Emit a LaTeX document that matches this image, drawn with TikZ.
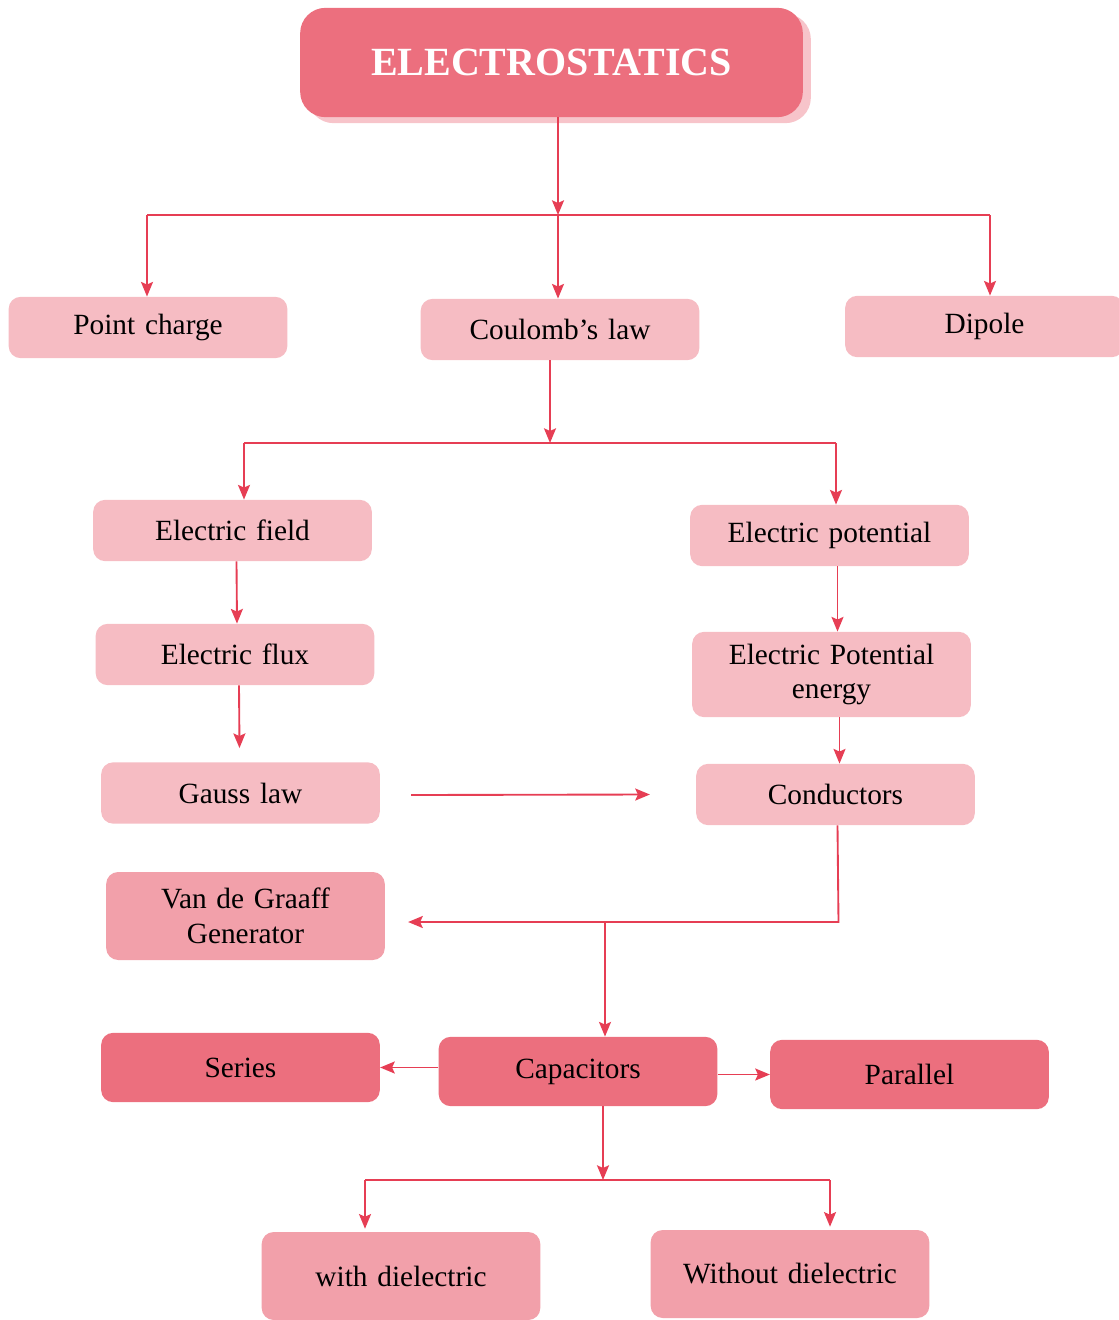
\documentclass[tikz,border=0pt]{standalone}
\usepackage{fontspec}
\setmainfont[WordSpace=0.8]{Liberation Serif}
\usetikzlibrary{arrows.meta,positioning,calc,shadows}
\definecolor{rosedark}{HTML}{EC6F7E}
\definecolor{roselight}{HTML}{F6BCC3}
\definecolor{rosemid}{HTML}{F2A0AA}
\definecolor{roseshade}{HTML}{F7C4CA}
\definecolor{linkred}{HTML}{E63E54}
\tikzstyle{block} = [fill=roselight, rounded corners=9pt, minimum width=209pt, minimum height=46pt, text width=200pt, align=center, inner sep=0pt, font=\fontsize{22}{26}\selectfont]
\tikzstyle{mblock} = [block, fill=rosemid, minimum height=66pt]
\tikzstyle{dblock} = [block, fill=rosedark, minimum height=52pt]
\tikzstyle{head} = [fill=rosedark, rounded corners=19pt, minimum width=377pt, minimum height=82pt, text=white, font=\fontsize{30}{34}\selectfont\bfseries, drop shadow={shadow xshift=6pt, shadow yshift=-4.5pt, fill=roseshade, opacity=1}]
\tikzstyle{link} = [draw=linkred, line width=1.4pt]
\tikzstyle{darrow} = [link, -{Stealth[length=11pt,width=9pt,inset=2pt]}]

\begin{document}
\begin{tikzpicture}[x=0.75pt, y=-0.75pt]
    \useasboundingbox (0,0) rectangle (1118,1320);

    % title
    \node[head] (title) at (551.5,62.5) {ELECTROSTATICS};

    % first row
    \node[block] (pc) at (148,327.5) {Point charge};
    \node[block] (cl) at (560,329.5) {Coulomb’s law};
    \node[block] (dp) at (984.5,326.5) {Dipole};

    % left column
    \node[block] (ef) at (232.5,530.5) {Electric field};
    \node[block] (flux) at (235,654.5) {Electric flux};
    \node[block] (gauss) at (240.5,793) {Gauss law};
    \node[mblock] (vdg) at (245.5,916) {Van de Graaff\\Generator};

    % right column
    \node[block] (ep) at (829.5,535.5) {Electric potential};
    \node[block, minimum height=64pt] (epe) at (831.5,674.5) {Electric Potential\\energy};
    \node[block] (cond) at (835.5,794.5) {Conductors};

    % capacitors
    \node[dblock] (series) at (240.5,1067.5) {Series};
    \node[dblock] (cap) at (578,1071.5) {Capacitors};
    \node[dblock] (par) at (909.5,1074.5) {Parallel};
    \node[mblock] (wd) at (401,1276) {with dielectric};
    \node[mblock] (wod) at (790,1274) {Without dielectric};

    % arrows from the title
    \coordinate (bus1) at (558,215);
    \coordinate (bus1l) at (147,215);
    \coordinate (bus1r) at (990,215);
    \draw[darrow] (title.south -| bus1) -- (bus1);
    \draw[link] (bus1l) -- (bus1r);
    \draw[darrow] (bus1l) -- (bus1l |- pc.north);
    \draw[darrow] (bus1) -- (bus1 |- cl.north);
    \draw[darrow] (bus1r) -- (bus1r |- dp.north);

    % arrows from coulomb's law
    \coordinate (bus2) at (550,443);
    \coordinate (bus2l) at (244,443);
    \coordinate (bus2r) at (836,443);
    \draw[darrow] (bus2 |- cl.south) -- (bus2);
    \draw[link] (bus2l) -- (bus2r);
    \draw[darrow] (bus2l) -- (bus2l |- ef.north);
    \draw[darrow] (bus2r) -- (bus2r |- ep.north);

    % field side
    \draw[darrow] ($(ef.south)+(4,0)$) -- ($(flux.north)+(2,0)$);
    \draw[darrow] ($(flux.south)+(4,0)$) -- ($(gauss.north)+(-1,-14)$);
    \draw[darrow] ($(gauss.east)+(31,2)$) -- ($(cond.west)+(-46,0)$);

    % potential side
    \draw[darrow] ($(ep.south)+(8,0)$) -- ($(epe.north)+(6,0)$);
    \draw[darrow] ($(epe.south)+(8,0)$) -- ($(cond.north)+(4,0)$);

    % conductors to capacitors
    \coordinate (bus3) at (605,922);
    \draw[darrow] ($(cond.south)+(2,0)$) -- ($(cond.south |- bus3)+(3,0)$) -- ($(vdg.east |- bus3)+(23,0)$);
    \draw[darrow] (bus3) -- (bus3 |- cap.north);

    % capacitors
    \draw[darrow] (cap.west |- series.east) -- (series.east);
    \draw[darrow] (cap.east |- par.west) -- (par.west);
    \coordinate (bus4) at (603,1180);
    \coordinate (bus4l) at (365,1180);
    \coordinate (bus4r) at (830,1180);
    \draw[darrow] (cap.south -| bus4) -- (bus4);
    \draw[link] (bus4l) -- (bus4r);
    \draw[darrow] (bus4l) -- ($(bus4l |- wd.north)+(0,-3)$);
    \draw[darrow] (bus4r) -- ($(bus4r |- wod.north)+(0,-3)$);
\end{tikzpicture}
\end{document}
